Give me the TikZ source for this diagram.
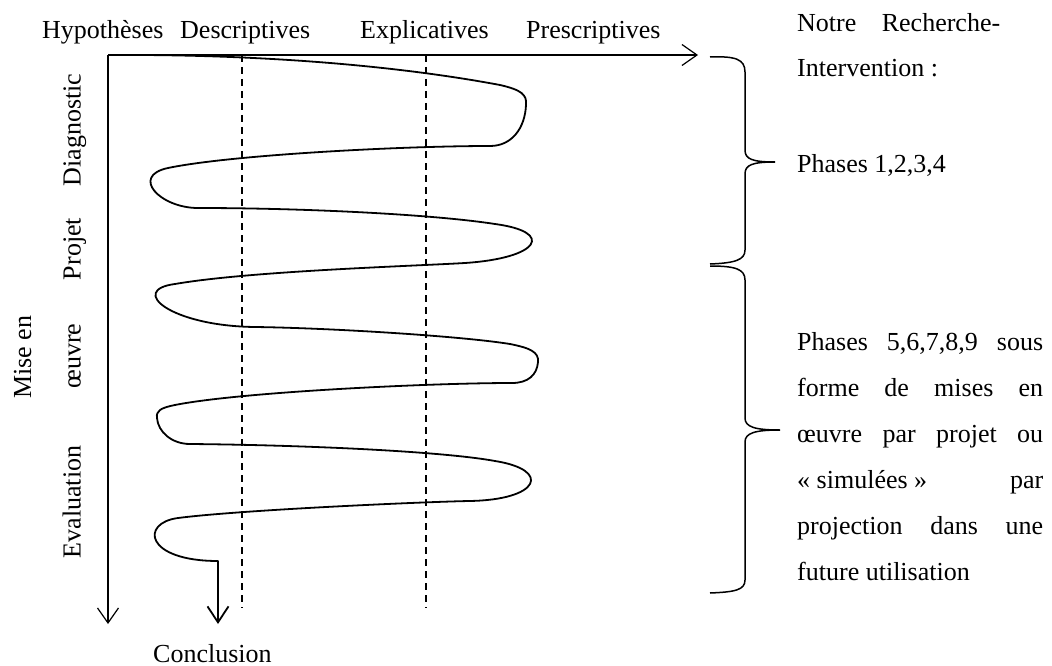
\documentclass[tikz,border=0pt]{standalone}
\usepackage{fontspec}
\setmainfont{Liberation Serif}
\usetikzlibrary{arrows.meta}
\begin{document}
\begin{tikzpicture}[x=1pt,y=-1pt,
  font=\fontsize{26}{31}\selectfont,
  lbl/.style={inner sep=0pt, anchor=base west},
  vlbl/.style={inner sep=0pt, anchor=base, rotate=90},
  axis/.style={line width=1.2pt, -{Straight Barb[length=15pt,width=21pt]}},
  guide/.style={line width=1.3pt, dash pattern=on 7pt off 5pt},
  spiral/.style={line width=1.8pt, line join=round, -{Straight Barb[length=16pt,width=21pt]}},
  bracepath/.style={line width=1.5pt}]
\useasboundingbox (0,0) rectangle (1052,666);

% axes
\coordinate (O) at (108,55);
\coordinate (XE) at (698,55);
\coordinate (YE) at (108,624);
\draw[axis] (O) -- (XE);
\draw[axis] (O) -- (YE);

% dashed guides
\coordinate (D1t) at (242,55);
\coordinate (D1b) at (242,608);
\coordinate (D2t) at (426,55);
\coordinate (D2b) at (426,608);
\draw[guide] (D1t) -- (D1b);
\draw[guide] (D2t) -- (D2b);

% top labels
\node[lbl] (hyp) at (42,39) {Hypothèses};
\node[lbl] (desc) at (180,39) {Descriptives};
\node[lbl] (expl) at (360,39) {Explicatives};
\node[lbl] (presc) at (526,39) {Prescriptives};

% left labels
\node[vlbl] (diag) at (80.5,130) {Diagnostic};
\node[vlbl] (proj) at (80.5,249) {Projet};
\node[vlbl] (oeuv) at (80.5,356) {œuvre};
\node[vlbl] (mise) at (31,357) {Mise en};
\node[vlbl] (eval) at (80.5,502) {Evaluation};

% conclusion
\node[lbl] (concl) at (153,662) {Conclusion};

% spiral
\draw[spiral] (142,55)
 .. controls (300,56) and (420,70) .. (500,85)
 .. controls (522,90) and (527,95) .. (526,105)
 .. controls (525,128) and (512,146) .. (490,146)
 .. controls (400,146) and (230,155) .. (168,168)
 .. controls (130,176) and (160,208) .. (198,208)
 .. controls (300,208) and (430,214) .. (495,224)
 .. controls (555,232) and (540,258) .. (465,263)
 .. controls (415,266) and (250,271) .. (175,284)
 .. controls (128,290) and (170,326) .. (255,327)
 .. controls (330,328) and (460,336) .. (510,344)
 .. controls (530,348) and (539,352) .. (538,362)
 .. controls (537,375) and (528,383) .. (512,383)
 .. controls (430,383) and (240,392) .. (175,405)
 .. controls (160,408) and (156,411) .. (157,418)
 .. controls (158,432) and (172,444) .. (190,444)
 .. controls (300,445) and (440,451) .. (495,461)
 .. controls (552,470) and (540,500) .. (469,501)
 .. controls (420,502) and (240,510) .. (178,518)
 .. controls (140,523) and (145,561) .. (218,561)
 -- (218,624);

% braces
\draw[bracepath] (710,57) .. controls (735,56) and (745,59) .. (745,72)
  -- (745,150) .. controls (745,159) and (752,162) .. (775,162)
  .. controls (752,162) and (745,165) .. (745,174)
  -- (745,250) .. controls (745,260) and (735,263) .. (710,264);
\draw[bracepath] (710,266) .. controls (735,266) and (745,269) .. (745,280)
  -- (745,418) .. controls (745,427) and (755,430) .. (780,430)
  .. controls (755,430) and (745,433) .. (745,442)
  -- (745,580) .. controls (745,590) and (735,592) .. (710,593);

% right text
\node[lbl] (t1) at (797,32) {\makebox[203pt][s]{Notre Recherche-}};
\node[lbl] (t2) at (797,77) {Intervention :};
\node[lbl] (t3) at (797,172) {Phases 1,2,3,4};
\node[lbl] (t4) at (797,350) {\makebox[246pt][s]{Phases 5,6,7,8,9 sous}};
\node[lbl] (t5) at (797,396) {\makebox[246pt][s]{forme de mises en}};
\node[lbl] (t6) at (797,442) {\makebox[246pt][s]{œuvre par projet ou}};
\node[lbl] (t7) at (797,488) {\makebox[246pt][s]{«\hspace{0.25em}simulées\hspace{0.25em}» par}};
\node[lbl] (t8) at (797,534) {\makebox[246pt][s]{projection dans une}};
\node[lbl] (t9) at (797,580) {future utilisation};
\end{tikzpicture}
\end{document}
